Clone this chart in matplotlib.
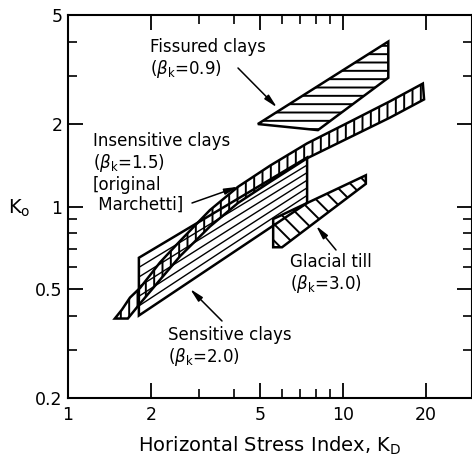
import matplotlib
matplotlib.use('Agg')
import matplotlib.pyplot as plt
from matplotlib.ticker import FixedLocator, FixedFormatter, NullFormatter

# axis ticks
x_major = [1, 2, 5, 10, 20]
x_labels = ['1', '2', '5', '10', '20']
x_minor = [3, 4, 6, 7, 8, 9]
y_major = [0.2, 0.5, 1, 2, 5]
y_labels = ['0.2', '0.5', '1', '2', '5']
y_minor = [0.3, 0.4, 0.6, 0.7, 0.8, 0.9, 3, 4]

# fissured clays zone
fissured_kd = [4.9, 14.6, 14.6, 8.1]
fissured_k0 = [2.0, 4.0, 2.95, 1.9]

# insensitive clays band (original Marchetti)
band_upper_kd = [1.48, 1.57, 1.68, 1.83, 2.16, 2.56, 3.28, 4.15, 5.43, 7.4, 10.6, 14.8, 19.5]
band_upper_k0 = [0.39, 0.42, 0.465, 0.505, 0.625, 0.75, 0.97, 1.18, 1.41, 1.70, 2.04, 2.42, 2.81]
band_lower_kd = [1.65, 1.83, 2.16, 2.56, 3.28, 4.15, 5.43, 7.4, 10.6, 14.8, 19.7]
band_lower_k0 = [0.39, 0.443, 0.54, 0.66, 0.845, 1.03, 1.23, 1.50, 1.79, 2.11, 2.46]

# sensitive clays zone
sens_kd = [1.81, 7.4]
sens_top_k0 = [0.65, 1.51]
sens_bot_k0 = [0.40, 1.03]

# glacial till zone
till_kd = [5.57, 12.1, 12.1, 6.0, 5.57]
till_k0 = [0.90, 1.30, 1.21, 0.71, 0.71]

W, H = 472, 463


def fig_xy(px, py):
    return (px / W, 1 - py / H)


plt.rcParams['font.family'] = 'DejaVu Sans'
plt.rcParams['hatch.linewidth'] = 1.4

fig = plt.figure(figsize=(W / 100, H / 100), dpi=100)
ax = fig.add_axes([68 / W, 65 / H, 403.5 / W, 383 / H])
ax.set_xscale('log')
ax.set_yscale('log')
ax.set_xlim(1, 29.3)
ax.set_ylim(0.2, 5)

# sensitive clays: outline + lines running along the zone
n_lines = 6
for i in range(1, n_lines):
    f = i / n_lines
    ys = [t ** (1 - f) * b ** f for t, b in zip(sens_top_k0, sens_bot_k0)]
    ax.plot(sens_kd, ys, color='k', lw=1.0)
ax.fill([sens_kd[0], sens_kd[1], sens_kd[1], sens_kd[0]],
        [sens_top_k0[0], sens_top_k0[1], sens_bot_k0[1], sens_bot_k0[0]],
        fill=False, edgecolor='k', lw=1.8)

# insensitive band
ax.fill(band_upper_kd + band_lower_kd[::-1], band_upper_k0 + band_lower_k0[::-1],
        fill=False, edgecolor='k', hatch='||', lw=1.8)

ax.fill(fissured_kd, fissured_k0, fill=False, edgecolor='k', hatch='--', lw=1.8)
ax.fill(till_kd, till_k0, fill=False, edgecolor='k', hatch='\\\\', lw=1.8)

# ticks
ax.xaxis.set_major_locator(FixedLocator(x_major))
ax.xaxis.set_major_formatter(FixedFormatter(x_labels))
ax.xaxis.set_minor_locator(FixedLocator(x_minor))
ax.xaxis.set_minor_formatter(NullFormatter())
ax.yaxis.set_major_locator(FixedLocator(y_major))
ax.yaxis.set_major_formatter(FixedFormatter(y_labels))
ax.yaxis.set_minor_locator(FixedLocator(y_minor))
ax.yaxis.set_minor_formatter(NullFormatter())
ax.tick_params(which='both', direction='in', top=True, right=True)
ax.tick_params(which='major', length=11, width=1.3, labelsize=12.5)
ax.tick_params(which='minor', length=6.5, width=1.2)
ax.tick_params(axis='x', pad=6)
ax.tick_params(axis='y', pad=4)
for s in ax.spines.values():
    s.set_linewidth(1.5)

ax.set_xlabel('Horizontal Stress Index, K$_\\mathregular{D}$', fontsize=14)
ax.xaxis.set_label_coords(0.5, -0.095)
fig.text(*fig_xy(8, 208), 'K$_\\mathregular{o}$', fontsize=14, ha='left', va='center')

# labels and arrows
txt = dict(fontsize=12, ha='left', va='top', linespacing=1.12)
fig.text(*fig_xy(150, 38), 'Fissured clays\n($\\beta_\\mathregular{k}$=0.9)', **txt)
fig.text(*fig_xy(93, 132), 'Insensitive clays\n($\\beta_\\mathregular{k}$=1.5)\n[original\n Marchetti]', **txt)
fig.text(*fig_xy(168, 326), 'Sensitive clays\n($\\beta_\\mathregular{k}$=2.0)', **txt)
fig.text(*fig_xy(290, 253), 'Glacial till\n($\\beta_\\mathregular{k}$=3.0)', **txt)

arrow = dict(arrowstyle='-|>,head_length=0.8,head_width=0.18', color='k', lw=1.1,
             shrinkA=0, shrinkB=0)
ax.annotate('', xy=(5.75, 2.30), xytext=fig_xy(238, 68), textcoords='figure fraction', arrowprops=arrow)
ax.annotate('', xy=(4.15, 1.18), xytext=fig_xy(192, 203), textcoords='figure fraction', arrowprops=arrow)
ax.annotate('', xy=(2.78, 0.50), xytext=fig_xy(222, 321), textcoords='figure fraction', arrowprops=arrow)
ax.annotate('', xy=(7.98, 0.85), xytext=fig_xy(336, 250), textcoords='figure fraction', arrowprops=arrow)

fig.savefig('out.png', dpi=100)
